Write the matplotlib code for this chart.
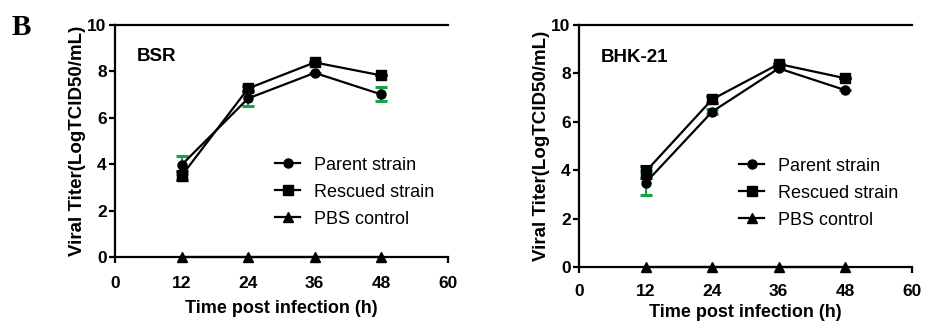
import numpy as np
import matplotlib.pyplot as plt
from matplotlib.lines import Line2D

plt.rcParams['font.family'] = ['Liberation Sans', 'DejaVu Sans']

hours = [12, 24, 36, 48]

# BSR cells
bsr_parent = [3.97, 6.84, 7.94, 7.01]
bsr_parent_err = [0.4, 0.33, 0.0, 0.3]
bsr_rescued = [3.5, 7.27, 8.39, 7.83]
bsr_rescued_err = [0.2, 0.1, 0.0, 0.0]
bsr_pbs = [0, 0, 0, 0]

# BHK-21 cells
bhk_parent = [3.48, 6.42, 8.21, 7.31]
bhk_parent_err = [0.5, 0.1, 0.0, 0.0]
bhk_rescued = [3.94, 6.93, 8.39, 7.8]
bhk_rescued_err = [0.25, 0.15, 0.0, 0.0]
bhk_pbs = [0, 0, 0, 0]

labels = ['Parent strain', 'Rescued strain', 'PBS control']

fig = plt.figure(figsize=(9.28, 3.23), dpi=100)
ax1 = fig.add_axes([0.1239, 0.2043, 0.3588, 0.718])
ax2 = fig.add_axes([0.6239, 0.1734, 0.3588, 0.749])


def panel(ax, parent, perr, rescued, rerr, pbs, name, leg_y, xpad, xlpad):
    ax.errorbar(hours, parent, yerr=perr, color='black', ecolor='#1aa04a',
                elinewidth=1.6, capsize=4, capthick=2.2, marker='o', ms=6.5,
                lw=1.6, zorder=3)
    ax.errorbar(hours, rescued, yerr=rerr, color='black', ecolor='black',
                elinewidth=1.6, capsize=4, capthick=2.2, marker='s', ms=6.5,
                lw=1.6, zorder=3)
    ax.plot(hours, pbs, color='black', marker='^', ms=6.5, lw=1.6,
            clip_on=False, zorder=4)
    ax.set_xlim(0, 60)
    ax.set_ylim(0, 10)
    ax.set_xticks([0, 12, 24, 36, 48, 60])
    ax.set_yticks([0, 2, 4, 6, 8, 10])
    ax.spines['right'].set_visible(False)
    for s in ['left', 'bottom', 'top']:
        ax.spines[s].set_linewidth(1.6)
    ax.tick_params(direction='out', width=1.6, length=4, labelsize=12.5)
    ax.tick_params(axis='x', pad=xpad)
    ax.tick_params(axis='y', pad=2)
    for lab in ax.get_xticklabels() + ax.get_yticklabels():
        lab.set_fontweight('bold')
    ax.set_xlabel('Time post infection (h)', fontsize=13, fontweight='bold', labelpad=xlpad)
    ax.set_ylabel('Viral Titer(LogTCID50/mL)', fontsize=13.5, fontweight='bold', labelpad=1)
    ax.text(0.065, 0.865, name, transform=ax.transAxes, fontsize=13.5,
            fontweight='bold', va='center')
    handles = [Line2D([], [], color='black', lw=1.6, marker=m, ms=6.5) for m in 'os^']
    ax.legend(handles, labels, loc='center left', bbox_to_anchor=(0.432, leg_y),
              frameon=False, fontsize=13, handlelength=1.4, labelspacing=0.55,
              handletextpad=0.75)


panel(ax1, bsr_parent, bsr_parent_err, bsr_rescued, bsr_rescued_err, bsr_pbs,
      'BSR', 0.28, 10, 6.5)
panel(ax2, bhk_parent, bhk_parent_err, bhk_rescued, bhk_rescued_err, bhk_pbs,
      'BHK-21', 0.305, 8, 4)

fig.text(0.012, 0.915, 'B', fontsize=21, fontweight='bold', family='Liberation Serif',
         va='center')

fig.savefig('out.png', dpi=100)
